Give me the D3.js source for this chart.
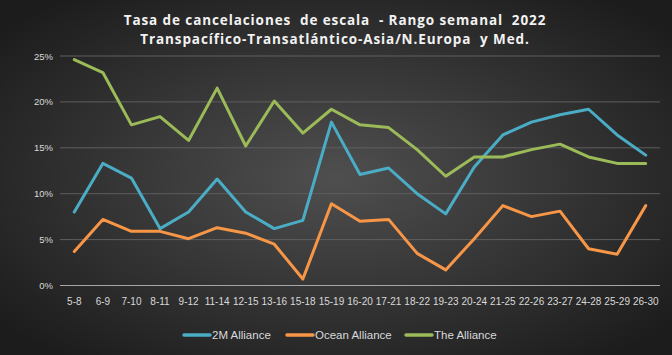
<!DOCTYPE html>
<html><head><meta charset="utf-8">
<script src="https://cdn.jsdelivr.net/npm/d3@7"></script>
<style>html,body{margin:0;padding:0;background:#222;}svg{display:block;}</style>
</head><body>
<svg id="c" width="672" height="355"></svg>
<script>
const categories = ["5-8","6-9","7-10","8-11","9-12","11-14","12-15","13-16","15-18","15-19","16-20","17-21","18-22","19-23","20-24","21-25","22-26","23-27","24-28","25-29","26-30"];
const alliance2M = [8.0,13.3,11.7,6.2,8.0,11.6,8.0,6.2,7.1,17.8,12.1,12.8,10.0,7.8,12.9,16.4,17.8,18.6,19.2,16.4,14.2];
const oceanAlliance = [3.7,7.2,5.9,5.9,5.1,6.3,5.7,4.5,0.7,8.9,7.0,7.2,3.5,1.7,5.1,8.7,7.5,8.1,4.0,3.4,8.7];
const theAlliance = [24.6,23.2,17.5,18.4,15.8,21.5,15.2,20.1,16.6,19.2,17.5,17.2,14.8,11.9,14.0,14.0,14.8,15.4,14.0,13.3,13.3];
const yTicks = [0,5,10,15,20,25];
const seriesNames = ["2M Alliance","Ocean Alliance","The Alliance"];
const colors = ["#4bacc6","#f79646","#9bbb59"];
const titleLines = ["Tasa de cancelaciones  de escala  - Rango semanal  2022","Transpacífico-Transatlántico-Asia/N.Europa  y Med."];

const W=672,H=355;
const svg=d3.select("#c");
const defs=svg.append("defs");
const g=defs.append("radialGradient").attr("id","bg").attr("cx","50%").attr("cy","50%").attr("r","65%");
g.append("stop").attr("offset","0%").attr("stop-color","#4f4f4f");
g.append("stop").attr("offset","100%").attr("stop-color","#1c1c1c");
svg.append("rect").attr("width",W).attr("height",H).attr("fill","url(#bg)");

const x=d3.scaleBand().domain(categories).range([60,660]);
const y=d3.scaleLinear().domain([0,25]).range([285.5,56]);

const narrow="'Liberation Sans Narrow','Arial Narrow',sans-serif";

svg.append("g").selectAll("line").data(yTicks.filter(d=>d>0)).join("line")
  .attr("x1",60).attr("x2",660).attr("y1",d=>y(d)).attr("y2",d=>y(d))
  .attr("stroke","#5e5e5e").attr("stroke-width",1);
svg.append("line").attr("x1",60).attr("x2",660).attr("y1",y(0)).attr("y2",y(0)).attr("stroke","#a6a6a6").attr("stroke-width",1);

const yAxis=svg.append("g").attr("transform","translate(53,0)")
  .call(d3.axisLeft(y).tickValues(yTicks).tickFormat(d=>d+"%").tickSize(0).tickPadding(0));
yAxis.select(".domain").remove();
yAxis.selectAll("text").attr("fill","#d9d9d9").style("font-family",narrow).style("font-size","9.5px");

const xAxis=svg.append("g").attr("transform",`translate(0,${y(0)})`)
  .call(d3.axisBottom(x).tickSize(0).tickPadding(12));
xAxis.select(".domain").remove();
xAxis.selectAll("text").attr("fill","#d9d9d9").style("font-family",narrow).style("font-size","10px");

const series=[alliance2M,oceanAlliance,theAlliance];
const line=d3.line().x((d,i)=>x(categories[i])+x.bandwidth()/2).y(d=>y(d));
svg.append("g").selectAll("path").data(series).join("path")
  .attr("d",line).attr("fill","none").attr("stroke",(d,i)=>colors[i])
  .attr("stroke-width",3).attr("stroke-linejoin","round").attr("stroke-linecap","round");

svg.append("g").selectAll("text").data(titleLines).join("text")
  .attr("x",335).attr("y",(d,i)=>25+i*18.5).attr("text-anchor","middle")
  .attr("fill","#f2f2f2").style("font-family","Open Sans, sans-serif").style("font-weight","bold")
  .style("font-size","13.5px").style("letter-spacing","0.9px").style("white-space","pre").text(d=>d);

const legX=[183,286,405];
const leg=svg.append("g").selectAll("g").data(seriesNames).join("g")
  .attr("transform",(d,i)=>`translate(${legX[i]},335)`);
leg.append("line").attr("x1",1).attr("x2",27).attr("y1",0).attr("y2",0)
  .attr("stroke",(d,i)=>colors[i]).attr("stroke-width",3.5).attr("stroke-linecap","round");
leg.append("text").attr("x",29).attr("y",4).attr("fill","#d9d9d9")
  .style("font-family",narrow).style("font-size","11.5px").text(d=>d);
</script>
</body></html>
